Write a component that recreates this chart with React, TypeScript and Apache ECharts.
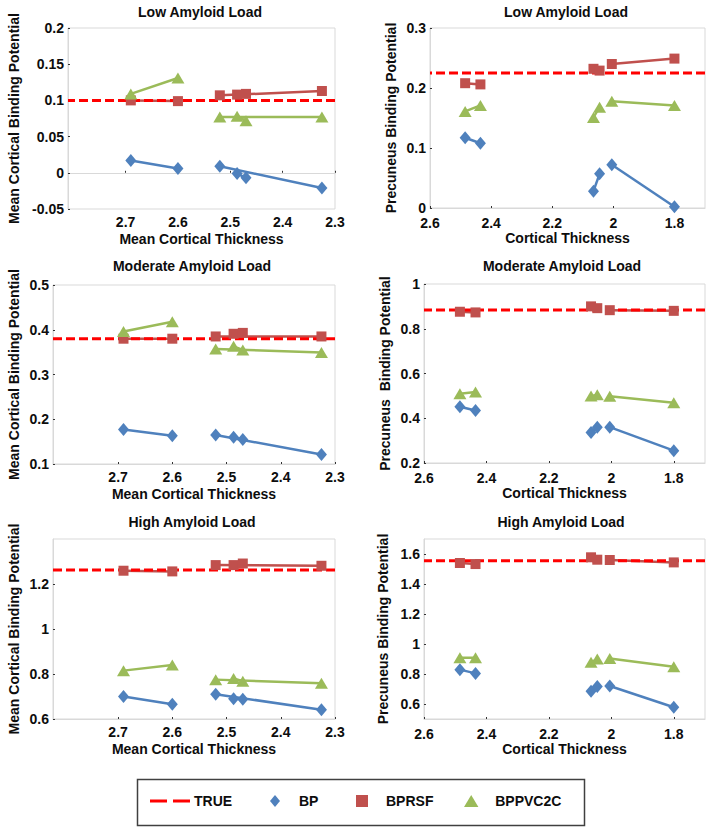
import React, { useEffect, useRef } from "react";
import * as echarts from "echarts";

// ---- data ----
const LEFT_X = [2.69, 2.6, 2.52, 2.487, 2.47, 2.325];
const RIGHT_X = [2.485, 2.435, 2.065, 2.045, 2.005, 1.8];
const LEFT_PAIRS = [[0, 1], [2, 5], [3, 4]];
const RIGHT_PAIRS = [[0, 1], [2, 3], [4, 5]];

const LOW_MEAN_BP = [0.017, 0.006, 0.009, -0.001, -0.007, -0.021];
const LOW_MEAN_BPRSF = [0.1, 0.099, 0.107, 0.108, 0.109, 0.113];
const LOW_MEAN_BPPVC2C = [0.109, 0.131, 0.077, 0.078, 0.072, 0.077];
const LOW_MEAN_TRUE = 0.1;

const LOW_PREC_BP = [0.117, 0.108, 0.028, 0.057, 0.072, 0.002];
const LOW_PREC_BPRSF = [0.208, 0.206, 0.232, 0.229, 0.24, 0.249];
const LOW_PREC_BPPVC2C = [0.161, 0.171, 0.151, 0.168, 0.178, 0.171];
const LOW_PREC_TRUE = 0.225;

const MOD_MEAN_BP = [0.177, 0.163, 0.165, 0.16, 0.155, 0.121];
const MOD_MEAN_BPRSF = [0.38, 0.38, 0.385, 0.391, 0.393, 0.385];
const MOD_MEAN_BPPVC2C = [0.396, 0.418, 0.357, 0.363, 0.355, 0.349];
const MOD_MEAN_TRUE = 0.38;

const MOD_PREC_BP = [0.451, 0.435, 0.336, 0.36, 0.36, 0.255];
const MOD_PREC_BPRSF = [0.876, 0.873, 0.9, 0.892, 0.883, 0.88];
const MOD_PREC_BPPVC2C = [0.51, 0.517, 0.499, 0.505, 0.498, 0.469];
const MOD_PREC_TRUE = 0.884;

const HIGH_MEAN_BP = [0.7, 0.666, 0.71, 0.69, 0.688, 0.641];
const HIGH_MEAN_BPRSF = [1.259, 1.256, 1.284, 1.284, 1.291, 1.281];
const HIGH_MEAN_BPPVC2C = [0.815, 0.84, 0.775, 0.78, 0.768, 0.759];
const HIGH_MEAN_TRUE = 1.262;

const HIGH_PREC_BP = [0.829, 0.804, 0.685, 0.716, 0.72, 0.578];
const HIGH_PREC_BPRSF = [1.54, 1.533, 1.578, 1.562, 1.56, 1.544];
const HIGH_PREC_BPPVC2C = [0.908, 0.908, 0.878, 0.9, 0.903, 0.849];
const HIGH_PREC_TRUE = 1.555;

const LEFT_X_TICKS = [2.3, 2.4, 2.5, 2.6, 2.7];
const RIGHT_X_TICKS = [1.8, 2, 2.2, 2.4, 2.6];
const Y_TICKS_LOW_MEAN = [-0.05, 0, 0.05, 0.1, 0.15, 0.2];
const Y_TICKS_LOW_PREC = [0, 0.1, 0.2, 0.3];
const Y_TICKS_MOD_MEAN = [0.1, 0.2, 0.3, 0.4, 0.5];
const Y_TICKS_MOD_PREC = [0.2, 0.4, 0.6, 0.8, 1];
const Y_TICKS_HIGH_MEAN = [0.6, 0.8, 1, 1.2];
const Y_TICKS_HIGH_PREC = [0.6, 0.8, 1, 1.2, 1.4, 1.6];

const TITLES = ["Low Amyloid Load", "Low Amyloid Load", "Moderate Amyloid Load", "Moderate Amyloid Load", "High Amyloid Load", "High Amyloid Load"];
const Y_NAMES = [
  "Mean Cortical Binding Potential",
  "Precuneus Binding Potential",
  "Mean Cortical Binding Potential",
  "Precuneus  Binding Potential",
  "Mean Cortical Binding Potential",
  "Precuneus Binding Potential",
];
const X_NAMES = ["Mean Cortical Thickness", "Cortical Thickness", "Mean Cortical Thickness", "Cortical Thickness", "Mean Cortical Thickness", "Cortical Thickness"];
const METHODS = ["BP", "BPRSF", "BPPVC2C"];
const LEGEND_NAMES = ["TRUE", "BP", "BPRSF", "BPPVC2C"];

// ---- layout / style ----
const FONT = "Liberation Sans, Arial, sans-serif";
const COLORS: Record<string, string> = { BP: "#4f81bd", BPRSF: "#c0504d", BPPVC2C: "#9bbb59" };
const SYMBOLS: Record<string, any> = { BP: ["diamond", [11, 13]], BPRSF: ["rect", [10, 10]], BPPVC2C: ["triangle", [13, 11]] };
const LEGEND_ICONS: Record<string, string> = {
  TRUE: "path://M0,0H17V3H0Z M23,0H40V3H23Z",
  BP: "path://M5,0L10,6L5,12L0,6Z",
  BPRSF: "path://M0,0H10V10H0Z",
  BPPVC2C: "path://M6,0L12,10L0,10Z",
};
const LEGEND_LEFT = [150, 270, 356, 464];

const PANELS = [
  { grid: { left: 68, top: 28, width: 267, height: 181 }, x: LEFT_X, pairs: LEFT_PAIRS, xr: [2.3, 2.81], xt: LEFT_X_TICKS, yr: [-0.05, 0.2], yt: Y_TICKS_LOW_MEAN, vals: [LOW_MEAN_BP, LOW_MEAN_BPRSF, LOW_MEAN_BPPVC2C], tv: LOW_MEAN_TRUE, yGap: 47, xm: 6, title: [200, 5] },
  { grid: { left: 430, top: 28, width: 275, height: 180 }, x: RIGHT_X, pairs: RIGHT_PAIRS, xr: [1.7, 2.6], xt: RIGHT_X_TICKS, yr: [0, 0.3], yt: Y_TICKS_LOW_PREC, vals: [LOW_PREC_BP, LOW_PREC_BPRSF, LOW_PREC_BPPVC2C], tv: LOW_PREC_TRUE, yGap: 32, xm: 8, title: [566, 5] },
  { grid: { left: 53, top: 285, width: 282, height: 179 }, x: LEFT_X, pairs: LEFT_PAIRS, xr: [2.3, 2.82], xt: LEFT_X_TICKS, yr: [0.1, 0.5], yt: Y_TICKS_MOD_MEAN, vals: [MOD_MEAN_BP, MOD_MEAN_BPRSF, MOD_MEAN_BPPVC2C], tv: MOD_MEAN_TRUE, yGap: 32, xm: 6, title: [192, 259] },
  { grid: { left: 424, top: 284, width: 281, height: 179 }, x: RIGHT_X, pairs: RIGHT_PAIRS, xr: [1.7, 2.6], xt: RIGHT_X_TICKS, yr: [0.2, 1.0], yt: Y_TICKS_MOD_PREC, vals: [MOD_PREC_BP, MOD_PREC_BPRSF, MOD_PREC_BPPVC2C], tv: MOD_PREC_TRUE, yGap: 32, xm: 8, title: [562, 259] },
  { grid: { left: 53, top: 539, width: 282, height: 180 }, x: LEFT_X, pairs: LEFT_PAIRS, xr: [2.3, 2.82], xt: LEFT_X_TICKS, yr: [0.6, 1.4], yt: Y_TICKS_HIGH_MEAN, vals: [HIGH_MEAN_BP, HIGH_MEAN_BPRSF, HIGH_MEAN_BPPVC2C], tv: HIGH_MEAN_TRUE, yGap: 32, xm: 6, title: [192, 515] },
  { grid: { left: 424, top: 539, width: 281, height: 180 }, x: RIGHT_X, pairs: RIGHT_PAIRS, xr: [1.7, 2.6], xt: RIGHT_X_TICKS, yr: [0.5, 1.7], yt: Y_TICKS_HIGH_PREC, vals: [HIGH_PREC_BP, HIGH_PREC_BPRSF, HIGH_PREC_BPPVC2C], tv: HIGH_PREC_TRUE, yGap: 34, xm: 8, title: [561, 515] },
];

const fmt = (v: number) => String(+Number(v).toFixed(3));

function buildOption() {
  const grid: any[] = [];
  const xAxis: any[] = [];
  const yAxis: any[] = [];
  const title: any[] = [];
  const series: any[] = [];
  const tickStyle = { show: true, inside: true, length: 2, lineStyle: { color: "#333", width: 1 } };
  const labelStyle = { color: "#0d0d0d", fontSize: 14, fontWeight: "bold", fontFamily: FONT };
  const nameStyle = { color: "#0d0d0d", fontSize: 14, fontWeight: "bold", fontFamily: FONT };

  PANELS.forEach((p, i) => {
    grid.push({ ...p.grid, show: true, borderColor: "#d9d9d9", borderWidth: 1, backgroundColor: "#fff", containLabel: false });
    title.push({
      text: TITLES[i], left: p.title[0], top: p.title[1], textAlign: "center", padding: 0,
      textStyle: { fontSize: 14, fontWeight: "bold", fontFamily: FONT, color: "#0d0d0d" },
    });
    xAxis.push({
      type: "value", gridIndex: i, inverse: true, min: p.xr[0], max: p.xr[1],
      name: X_NAMES[i], nameLocation: "middle", nameGap: 23, nameTextStyle: nameStyle,
      axisLine: { show: true, lineStyle: { color: "#d9d9d9" } },
      axisTick: { ...tickStyle, customValues: p.xt },
      axisLabel: { ...labelStyle, margin: p.xm, lineHeight: 14, customValues: p.xt, formatter: fmt },
      splitLine: { show: false },
    });
    yAxis.push({
      type: "value", gridIndex: i, min: p.yr[0], max: p.yr[1],
      name: Y_NAMES[i], nameLocation: "middle", nameGap: p.yGap, nameTextStyle: nameStyle,
      axisLine: { show: true, lineStyle: { color: "#d9d9d9" } },
      axisTick: { ...tickStyle, customValues: p.yt },
      axisLabel: { ...labelStyle, margin: 4, lineHeight: 12, customValues: p.yt, formatter: fmt },
      splitLine: { show: false },
    });

    series.push({
      name: "TRUE", type: "line", xAxisIndex: i, yAxisIndex: i, symbol: "none", z: 3,
      data: [[p.xr[0], p.tv], [p.xr[1], p.tv]],
      itemStyle: { color: "#ff0000" },
      lineStyle: { color: "#ff0000", width: 3, type: [9, 4] },
    });

    METHODS.forEach((m, k) => {
      const ys = p.vals[k];
      p.pairs.forEach(([a, b]) => {
        series.push({
          name: m + " line", type: "line", xAxisIndex: i, yAxisIndex: i, symbol: "none", z: 2,
          data: [[p.x[a], ys[a]], [p.x[b], ys[b]]],
          lineStyle: { color: COLORS[m], width: 2.5 },
          itemStyle: { color: COLORS[m] },
        });
      });
      series.push({
        name: m, type: "scatter", xAxisIndex: i, yAxisIndex: i, z: 4,
        symbol: SYMBOLS[m][0], symbolSize: SYMBOLS[m][1],
        data: p.x.map((xv, j) => [xv, ys[j]]),
        itemStyle: { color: COLORS[m], opacity: 1 },
      });
    });
  });

  const legend = LEGEND_NAMES.map((n, i) => ({
    left: LEGEND_LEFT[i], top: 794, orient: "horizontal",
    padding: 0, itemWidth: 40, itemHeight: 12, itemGap: 0,
    textStyle: { fontSize: 14, fontWeight: "bold", fontFamily: FONT, color: "#0d0d0d", padding: [0, 0, 0, -1] },
    itemStyle: { borderWidth: 0 },
    selectedMode: false,
    data: [{ name: n, icon: LEGEND_ICONS[n] }],
  }));

  const graphic = [
    {
      type: "rect", left: 135, top: 777, silent: true,
      shape: { width: 447, height: 46 },
      style: { fill: "none", stroke: "#404040", lineWidth: 1.5 },
    },
  ];

  return { animation: false, backgroundColor: "#fff", title, grid, xAxis, yAxis, series, legend, graphic };
}

export default function App() {
  const ref = useRef<HTMLDivElement>(null);
  useEffect(() => {
    document.body.style.margin = "0";
    if (!ref.current) return;
    const chart = echarts.init(ref.current, undefined, { renderer: "svg" });
    chart.setOption(buildOption() as any);
    return () => chart.dispose();
  }, []);
  return <div ref={ref} style={{ width: 714, height: 831 }} />;
}
